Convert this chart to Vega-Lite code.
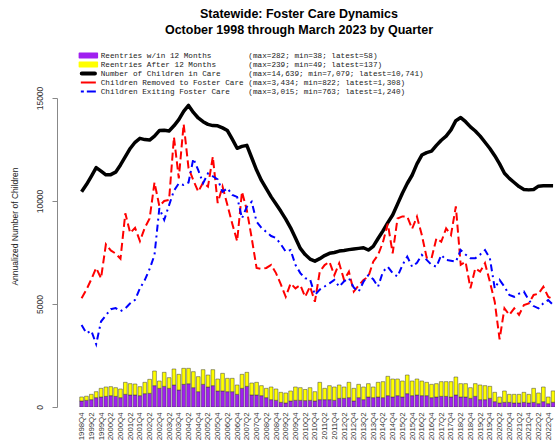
{
  "$schema": "https://vega.github.io/schema/vega-lite/v6.json",
  "width": 498,
  "height": 309,
  "autosize": {"type": "none"},
  "padding": {"left": 57, "top": 98, "right": 0, "bottom": 37},
  "background": "white",
  "title": {
    "text": ["Statewide: Foster Care Dynamics", "October 1998 through March 2023 by Quarter"],
    "font": "Liberation Sans",
    "fontSize": 12.5,
    "fontWeight": "bold",
    "color": "#000000",
    "lineHeight": 16,
    "offset": 15.75,
    "anchor": "middle",
    "dx": -7
  },
  "data": {
    "values": [
      {"i": 0, "care": 10450, "removed": 5280, "exiting": 3980, "r1": 291, "r2": 196},
      {"i": 1, "care": 10800, "removed": 5700, "exiting": 3580, "r1": 324, "r2": 200},
      {"i": 2, "care": 11200, "removed": 6200, "exiting": 3700, "r1": 356, "r2": 259},
      {"i": 3, "care": 11620, "removed": 6750, "exiting": 3052, "r1": 453, "r2": 291},
      {"i": 4, "care": 11450, "removed": 6250, "exiting": 4150, "r1": 485, "r2": 421},
      {"i": 5, "care": 11270, "removed": 7900, "exiting": 4450, "r1": 518, "r2": 453},
      {"i": 6, "care": 11280, "removed": 7600, "exiting": 4750, "r1": 550, "r2": 437},
      {"i": 7, "care": 11400, "removed": 7450, "exiting": 4800, "r1": 518, "r2": 420},
      {"i": 8, "care": 11750, "removed": 7200, "exiting": 4650, "r1": 453, "r2": 421},
      {"i": 9, "care": 12150, "removed": 9400, "exiting": 4790, "r1": 615, "r2": 582},
      {"i": 10, "care": 12550, "removed": 8450, "exiting": 5030, "r1": 583, "r2": 550},
      {"i": 11, "care": 12850, "removed": 8700, "exiting": 5200, "r1": 583, "r2": 534},
      {"i": 12, "care": 13040, "removed": 8050, "exiting": 5760, "r1": 550, "r2": 437},
      {"i": 13, "care": 12980, "removed": 8700, "exiting": 6160, "r1": 647, "r2": 550},
      {"i": 14, "care": 12960, "removed": 9150, "exiting": 6700, "r1": 663, "r2": 680},
      {"i": 15, "care": 13150, "removed": 10900, "exiting": 7380, "r1": 1036, "r2": 711},
      {"i": 16, "care": 13420, "removed": 9750, "exiting": 9650, "r1": 906, "r2": 356},
      {"i": 17, "care": 13430, "removed": 10000, "exiting": 9080, "r1": 1003, "r2": 680},
      {"i": 18, "care": 13400, "removed": 10050, "exiting": 9800, "r1": 906, "r2": 518},
      {"i": 19, "care": 13650, "removed": 13100, "exiting": 10500, "r1": 1068, "r2": 777},
      {"i": 20, "care": 13950, "removed": 11100, "exiting": 10850, "r1": 825, "r2": 761},
      {"i": 21, "care": 14350, "removed": 13736, "exiting": 10780, "r1": 1100, "r2": 777},
      {"i": 22, "care": 14639, "removed": 11600, "exiting": 10900, "r1": 1128, "r2": 749},
      {"i": 23, "care": 14300, "removed": 11000, "exiting": 12060, "r1": 938, "r2": 777},
      {"i": 24, "care": 14030, "removed": 10450, "exiting": 11500, "r1": 744, "r2": 729},
      {"i": 25, "care": 13850, "removed": 10900, "exiting": 10860, "r1": 1100, "r2": 712},
      {"i": 26, "care": 13720, "removed": 10700, "exiting": 11340, "r1": 971, "r2": 582},
      {"i": 27, "care": 13660, "removed": 12150, "exiting": 11200, "r1": 1036, "r2": 776},
      {"i": 28, "care": 13650, "removed": 9900, "exiting": 11050, "r1": 777, "r2": 582},
      {"i": 29, "care": 13550, "removed": 10700, "exiting": 10450, "r1": 777, "r2": 857},
      {"i": 30, "care": 13420, "removed": 9800, "exiting": 10620, "r1": 744, "r2": 648},
      {"i": 31, "care": 13000, "removed": 8900, "exiting": 10300, "r1": 744, "r2": 648},
      {"i": 32, "care": 12560, "removed": 8050, "exiting": 10200, "r1": 615, "r2": 453},
      {"i": 33, "care": 12650, "removed": 10450, "exiting": 9160, "r1": 906, "r2": 680},
      {"i": 34, "care": 12700, "removed": 9550, "exiting": 9720, "r1": 1003, "r2": 680},
      {"i": 35, "care": 12100, "removed": 8200, "exiting": 9960, "r1": 583, "r2": 582},
      {"i": 36, "care": 11500, "removed": 6750, "exiting": 9000, "r1": 583, "r2": 614},
      {"i": 37, "care": 11000, "removed": 6700, "exiting": 8700, "r1": 550, "r2": 486},
      {"i": 38, "care": 10600, "removed": 6750, "exiting": 8500, "r1": 453, "r2": 453},
      {"i": 39, "care": 10200, "removed": 6900, "exiting": 8300, "r1": 356, "r2": 615},
      {"i": 40, "care": 9850, "removed": 6500, "exiting": 8200, "r1": 324, "r2": 550},
      {"i": 41, "care": 9500, "removed": 5950, "exiting": 7900, "r1": 227, "r2": 485},
      {"i": 42, "care": 9120, "removed": 5350, "exiting": 7540, "r1": 194, "r2": 486},
      {"i": 43, "care": 8700, "removed": 6000, "exiting": 7620, "r1": 291, "r2": 486},
      {"i": 44, "care": 8200, "removed": 5760, "exiting": 6900, "r1": 324, "r2": 647},
      {"i": 45, "care": 7700, "removed": 5920, "exiting": 6500, "r1": 324, "r2": 614},
      {"i": 46, "care": 7400, "removed": 5350, "exiting": 6250, "r1": 310, "r2": 540},
      {"i": 47, "care": 7180, "removed": 5850, "exiting": 6200, "r1": 324, "r2": 614},
      {"i": 48, "care": 7079, "removed": 5110, "exiting": 5440, "r1": 291, "r2": 453},
      {"i": 49, "care": 7200, "removed": 6570, "exiting": 5700, "r1": 356, "r2": 841},
      {"i": 50, "care": 7350, "removed": 6890, "exiting": 5850, "r1": 356, "r2": 550},
      {"i": 51, "care": 7460, "removed": 7050, "exiting": 6000, "r1": 356, "r2": 680},
      {"i": 52, "care": 7500, "removed": 6400, "exiting": 6170, "r1": 324, "r2": 647},
      {"i": 53, "care": 7570, "removed": 6980, "exiting": 5840, "r1": 421, "r2": 647},
      {"i": 54, "care": 7600, "removed": 6170, "exiting": 6100, "r1": 421, "r2": 550},
      {"i": 55, "care": 7640, "removed": 6570, "exiting": 6250, "r1": 453, "r2": 744},
      {"i": 56, "care": 7670, "removed": 5600, "exiting": 5800, "r1": 291, "r2": 615},
      {"i": 57, "care": 7700, "removed": 5900, "exiting": 5600, "r1": 453, "r2": 647},
      {"i": 58, "care": 7730, "removed": 6170, "exiting": 6080, "r1": 356, "r2": 615},
      {"i": 59, "care": 7620, "removed": 6330, "exiting": 6400, "r1": 485, "r2": 648},
      {"i": 60, "care": 7800, "removed": 7050, "exiting": 6200, "r1": 453, "r2": 518},
      {"i": 61, "care": 8180, "removed": 7380, "exiting": 5840, "r1": 485, "r2": 712},
      {"i": 62, "care": 8550, "removed": 8000, "exiting": 6570, "r1": 453, "r2": 777},
      {"i": 63, "care": 8950, "removed": 8900, "exiting": 6810, "r1": 550, "r2": 939},
      {"i": 64, "care": 9320, "removed": 7460, "exiting": 6500, "r1": 485, "r2": 874},
      {"i": 65, "care": 9850, "removed": 9150, "exiting": 6330, "r1": 550, "r2": 809},
      {"i": 66, "care": 10380, "removed": 9250, "exiting": 6890, "r1": 485, "r2": 777},
      {"i": 67, "care": 10850, "removed": 9240, "exiting": 7300, "r1": 647, "r2": 906},
      {"i": 68, "care": 11250, "removed": 8650, "exiting": 6810, "r1": 550, "r2": 712},
      {"i": 69, "care": 11800, "removed": 9240, "exiting": 7000, "r1": 583, "r2": 776},
      {"i": 70, "care": 12230, "removed": 8350, "exiting": 7380, "r1": 550, "r2": 712},
      {"i": 71, "care": 12350, "removed": 7250, "exiting": 7140, "r1": 550, "r2": 647},
      {"i": 72, "care": 12420, "removed": 7220, "exiting": 6900, "r1": 453, "r2": 647},
      {"i": 73, "care": 12700, "removed": 8190, "exiting": 6810, "r1": 485, "r2": 648},
      {"i": 74, "care": 12950, "removed": 8020, "exiting": 7380, "r1": 518, "r2": 712},
      {"i": 75, "care": 13150, "removed": 8670, "exiting": 7140, "r1": 518, "r2": 712},
      {"i": 76, "care": 13450, "removed": 8350, "exiting": 7100, "r1": 485, "r2": 745},
      {"i": 77, "care": 13900, "removed": 9736, "exiting": 7050, "r1": 583, "r2": 873},
      {"i": 78, "care": 14050, "removed": 6900, "exiting": 7620, "r1": 485, "r2": 648},
      {"i": 79, "care": 13850, "removed": 7050, "exiting": 7400, "r1": 485, "r2": 648},
      {"i": 80, "care": 13600, "removed": 5760, "exiting": 7220, "r1": 421, "r2": 517},
      {"i": 81, "care": 13400, "removed": 6730, "exiting": 7220, "r1": 518, "r2": 615},
      {"i": 82, "care": 13150, "removed": 6570, "exiting": 7400, "r1": 356, "r2": 712},
      {"i": 83, "care": 12850, "removed": 6980, "exiting": 7621, "r1": 356, "r2": 680},
      {"i": 84, "care": 12550, "removed": 6080, "exiting": 7220, "r1": 421, "r2": 582},
      {"i": 85, "care": 12200, "removed": 5110, "exiting": 5760, "r1": 259, "r2": 453},
      {"i": 86, "care": 11800, "removed": 3288, "exiting": 6170, "r1": 194, "r2": 291},
      {"i": 87, "care": 11350, "removed": 4790, "exiting": 5840, "r1": 227, "r2": 550},
      {"i": 88, "care": 11100, "removed": 4470, "exiting": 5440, "r1": 227, "r2": 388},
      {"i": 89, "care": 10900, "removed": 4790, "exiting": 5350, "r1": 194, "r2": 421},
      {"i": 90, "care": 10700, "removed": 4470, "exiting": 5500, "r1": 194, "r2": 421},
      {"i": 91, "care": 10560, "removed": 4950, "exiting": 5600, "r1": 227, "r2": 485},
      {"i": 92, "care": 10540, "removed": 5030, "exiting": 5190, "r1": 194, "r2": 421},
      {"i": 93, "care": 10560, "removed": 5440, "exiting": 4900, "r1": 227, "r2": 679},
      {"i": 94, "care": 10720, "removed": 5500, "exiting": 4790, "r1": 162, "r2": 518},
      {"i": 95, "care": 10740, "removed": 5840, "exiting": 5030, "r1": 259, "r2": 712},
      {"i": 96, "care": 10745, "removed": 5350, "exiting": 5190, "r1": 162, "r2": 323},
      {"i": 97, "care": 10741, "removed": 5232, "exiting": 4960, "r1": 232, "r2": 548}
    ]
  },
  "encoding": {
    "x": {
      "field": "i",
      "type": "quantitative",
      "scale": {"domain": [-4.03, 96.37], "nice": false, "zero": false},
      "axis": {
        "title": null,
        "values": [0,2,4,6,8,10,12,14,16,18,20,22,24,26,28,30,32,34,36,38,40,42,44,46,48,50,52,54,56,58,60,62,64,66,68,70,72,74,76,78,80,82,84,86,88,90,92,94,96],
        "labelExpr": "toString(1998 + floor((datum.value + 3) / 4)) + 'Q' + toString((datum.value + 3) % 4 + 1)",
        "labelAngle": -90,
        "labelAlign": "right",
        "labelBaseline": "middle",
        "labelFont": "Liberation Sans",
        "labelFontSize": 7.8,
        "labelColor": "#333333",
        "labelPadding": 5,
        "labelOverlap": false,
        "labelFlush": false,
        "labelBound": false,
        "domain": false,
        "ticks": false,
        "tickSize": 0,
        "grid": false
      }
    }
  },
  "layer": [
    {
      "transform": [{"fold": ["r1", "r2"], "as": ["s", "v"]}],
      "mark": {"type": "bar", "size": 3.7, "stroke": "#3a3a3a", "strokeWidth": 0.5, "clip": true},
      "encoding": {
        "y": {
          "field": "v",
          "type": "quantitative",
          "stack": "zero",
          "scale": {"domain": [0, 15000], "nice": false},
          "title": "Annualized Number of Children",
          "axis": {
            "values": [0, 5000, 10000, 15000],
            "format": "d",
            "grid": false,
            "labelAngle": -90,
            "labelAlign": "center",
            "labelBaseline": "bottom",
            "labelFont": "Liberation Sans",
            "labelFontSize": 8.5,
            "labelColor": "#333333",
            "labelPadding": 8,
            "tickSize": 5,
            "tickColor": "#888888",
            "domainColor": "#888888",
            "titleFont": "Liberation Sans",
            "titleFontSize": 8.5,
            "titleFontWeight": "normal",
            "titleColor": "#222222",
            "titleAngle": -90,
            "titleAlign": "center",
            "titleBaseline": "bottom",
            "titleX": -37.5,
            "titleY": 128
          }
        },
        "order": {"field": "s", "type": "nominal", "sort": "ascending"},
        "color": {
          "field": "s",
          "type": "nominal",
          "scale": {
            "domain": ["r1", "r2", "care", "removed", "exiting"],
            "range": ["#a020f0", "#ffff00", "#000000", "#ff0000", "#0000ff"]
          },
          "legend": {
            "title": null, "orient": "none", "legendX": 27.5, "legendY": -46.25, "direction": "vertical",
            "padding": 0, "rowPadding": 0, "symbolType": "stroke", "symbolSize": 36,
            "labelFont": "Liberation Mono", "labelFontSize": 7.7, "labelColor": "#222222", "labelLimit": 800, "labelOffset": 8.5,
            "labelExpr": "datum.value == 'r1' ? 'Reentries w/in 12 Months\u00a0\u00a0\u00a0\u00a0\u00a0\u00a0\u00a0\u00a0(max=282; min=38; latest=58)' : datum.value == 'r2' ? 'Reentries After 12 Months\u00a0\u00a0\u00a0\u00a0\u00a0\u00a0\u00a0(max=239; min=49; latest=137)' : datum.value == 'care' ? 'Number of Children in Care\u00a0\u00a0\u00a0\u00a0\u00a0\u00a0(max=14,639; min=7,079; latest=10,741)' : datum.value == 'removed' ? 'Children Removed to Foster Care\u00a0(max=3,434; min=822; latest=1,308)' : 'Children Exiting Foster Care\u00a0\u00a0\u00a0\u00a0(max=3,015; min=763; latest=1,240)'",
            "encode": {"symbols": {"update": {
              "shape": {"signal": "datum.value == 'r1' || datum.value == 'r2' ? 'M-3.0,-0.75H3.0V0.75H-3.0Z' : datum.value == 'care' ? 'M-2.2,0H2.2' : 'M-2.5,0H2.5'"},
              "fill": {"signal": "datum.value == 'r1' ? '#a020f0' : datum.value == 'r2' ? '#ffff00' : 'transparent'"},
              "stroke": {"signal": "datum.value == 'r1' ? '#a020f0' : datum.value == 'r2' ? '#ffff00' : datum.value == 'care' ? '#000000' : datum.value == 'removed' ? '#ff0000' : '#0000ff'"},
              "opacity": {"value": 1},
              "strokeWidth": {"signal": "datum.value == 'care' ? 4 : datum.value == 'removed' || datum.value == 'exiting' ? 2 : 1.5"},
              "strokeDash": {"signal": "datum.value == 'exiting' ? [3,3,9,3] : [1,0]"},
              "strokeCap": {"signal": "datum.value == 'removed' || datum.value == 'exiting' ? 'butt' : 'round'"},
              "strokeJoin": {"value": "round"}
            }}}
          }
        }
      }
    },
    {
      "mark": {"type": "line", "strokeWidth": 3.5, "strokeJoin": "round", "clip": true},
      "encoding": {
        "y": {"field": "care", "type": "quantitative", "scale": {"domain": [0, 15000], "nice": false}, "title": "Annualized Number of Children"},
        "color": {
          "datum": "care",
          "type": "nominal",
          "legend": {
            "title": null, "orient": "none", "legendX": 27.5, "legendY": -46.25, "direction": "vertical",
            "padding": 0, "rowPadding": 0, "symbolType": "stroke", "symbolSize": 36,
            "labelFont": "Liberation Mono", "labelFontSize": 7.7, "labelColor": "#222222", "labelLimit": 800, "labelOffset": 8.5,
            "labelExpr": "datum.value == 'r1' ? 'Reentries w/in 12 Months\u00a0\u00a0\u00a0\u00a0\u00a0\u00a0\u00a0\u00a0(max=282; min=38; latest=58)' : datum.value == 'r2' ? 'Reentries After 12 Months\u00a0\u00a0\u00a0\u00a0\u00a0\u00a0\u00a0(max=239; min=49; latest=137)' : datum.value == 'care' ? 'Number of Children in Care\u00a0\u00a0\u00a0\u00a0\u00a0\u00a0(max=14,639; min=7,079; latest=10,741)' : datum.value == 'removed' ? 'Children Removed to Foster Care\u00a0(max=3,434; min=822; latest=1,308)' : 'Children Exiting Foster Care\u00a0\u00a0\u00a0\u00a0(max=3,015; min=763; latest=1,240)'",
            "encode": {"symbols": {"update": {
              "shape": {"signal": "datum.value == 'r1' || datum.value == 'r2' ? 'M-3.0,-0.75H3.0V0.75H-3.0Z' : datum.value == 'care' ? 'M-2.2,0H2.2' : 'M-2.5,0H2.5'"},
              "fill": {"signal": "datum.value == 'r1' ? '#a020f0' : datum.value == 'r2' ? '#ffff00' : 'transparent'"},
              "stroke": {"signal": "datum.value == 'r1' ? '#a020f0' : datum.value == 'r2' ? '#ffff00' : datum.value == 'care' ? '#000000' : datum.value == 'removed' ? '#ff0000' : '#0000ff'"},
              "opacity": {"value": 1},
              "strokeWidth": {"signal": "datum.value == 'care' ? 4 : datum.value == 'removed' || datum.value == 'exiting' ? 2 : 1.5"},
              "strokeDash": {"signal": "datum.value == 'exiting' ? [3,3,9,3] : [1,0]"},
              "strokeCap": {"signal": "datum.value == 'removed' || datum.value == 'exiting' ? 'butt' : 'round'"},
              "strokeJoin": {"value": "round"}
            }}}
          }
        }
      }
    },
    {
      "mark": {"type": "line", "strokeWidth": 2, "strokeDash": [8, 4], "clip": true},
      "encoding": {
        "y": {"field": "removed", "type": "quantitative", "scale": {"domain": [0, 15000], "nice": false}, "title": "Annualized Number of Children"},
        "color": {
          "datum": "removed",
          "type": "nominal",
          "legend": {
            "title": null, "orient": "none", "legendX": 27.5, "legendY": -46.25, "direction": "vertical",
            "padding": 0, "rowPadding": 0, "symbolType": "stroke", "symbolSize": 36,
            "labelFont": "Liberation Mono", "labelFontSize": 7.7, "labelColor": "#222222", "labelLimit": 800, "labelOffset": 8.5,
            "labelExpr": "datum.value == 'r1' ? 'Reentries w/in 12 Months\u00a0\u00a0\u00a0\u00a0\u00a0\u00a0\u00a0\u00a0(max=282; min=38; latest=58)' : datum.value == 'r2' ? 'Reentries After 12 Months\u00a0\u00a0\u00a0\u00a0\u00a0\u00a0\u00a0(max=239; min=49; latest=137)' : datum.value == 'care' ? 'Number of Children in Care\u00a0\u00a0\u00a0\u00a0\u00a0\u00a0(max=14,639; min=7,079; latest=10,741)' : datum.value == 'removed' ? 'Children Removed to Foster Care\u00a0(max=3,434; min=822; latest=1,308)' : 'Children Exiting Foster Care\u00a0\u00a0\u00a0\u00a0(max=3,015; min=763; latest=1,240)'",
            "encode": {"symbols": {"update": {
              "shape": {"signal": "datum.value == 'r1' || datum.value == 'r2' ? 'M-3.0,-0.75H3.0V0.75H-3.0Z' : datum.value == 'care' ? 'M-2.2,0H2.2' : 'M-2.5,0H2.5'"},
              "fill": {"signal": "datum.value == 'r1' ? '#a020f0' : datum.value == 'r2' ? '#ffff00' : 'transparent'"},
              "stroke": {"signal": "datum.value == 'r1' ? '#a020f0' : datum.value == 'r2' ? '#ffff00' : datum.value == 'care' ? '#000000' : datum.value == 'removed' ? '#ff0000' : '#0000ff'"},
              "opacity": {"value": 1},
              "strokeWidth": {"signal": "datum.value == 'care' ? 4 : datum.value == 'removed' || datum.value == 'exiting' ? 2 : 1.5"},
              "strokeDash": {"signal": "datum.value == 'exiting' ? [3,3,9,3] : [1,0]"},
              "strokeCap": {"signal": "datum.value == 'removed' || datum.value == 'exiting' ? 'butt' : 'round'"},
              "strokeJoin": {"value": "round"}
            }}}
          }
        }
      }
    },
    {
      "mark": {"type": "line", "strokeWidth": 2, "strokeDash": [7, 4, 2, 4], "clip": true},
      "encoding": {
        "y": {"field": "exiting", "type": "quantitative", "scale": {"domain": [0, 15000], "nice": false}, "title": "Annualized Number of Children"},
        "color": {
          "datum": "exiting",
          "type": "nominal",
          "legend": {
            "title": null, "orient": "none", "legendX": 27.5, "legendY": -46.25, "direction": "vertical",
            "padding": 0, "rowPadding": 0, "symbolType": "stroke", "symbolSize": 36,
            "labelFont": "Liberation Mono", "labelFontSize": 7.7, "labelColor": "#222222", "labelLimit": 800, "labelOffset": 8.5,
            "labelExpr": "datum.value == 'r1' ? 'Reentries w/in 12 Months\u00a0\u00a0\u00a0\u00a0\u00a0\u00a0\u00a0\u00a0(max=282; min=38; latest=58)' : datum.value == 'r2' ? 'Reentries After 12 Months\u00a0\u00a0\u00a0\u00a0\u00a0\u00a0\u00a0(max=239; min=49; latest=137)' : datum.value == 'care' ? 'Number of Children in Care\u00a0\u00a0\u00a0\u00a0\u00a0\u00a0(max=14,639; min=7,079; latest=10,741)' : datum.value == 'removed' ? 'Children Removed to Foster Care\u00a0(max=3,434; min=822; latest=1,308)' : 'Children Exiting Foster Care\u00a0\u00a0\u00a0\u00a0(max=3,015; min=763; latest=1,240)'",
            "encode": {"symbols": {"update": {
              "shape": {"signal": "datum.value == 'r1' || datum.value == 'r2' ? 'M-3.0,-0.75H3.0V0.75H-3.0Z' : datum.value == 'care' ? 'M-2.2,0H2.2' : 'M-2.5,0H2.5'"},
              "fill": {"signal": "datum.value == 'r1' ? '#a020f0' : datum.value == 'r2' ? '#ffff00' : 'transparent'"},
              "stroke": {"signal": "datum.value == 'r1' ? '#a020f0' : datum.value == 'r2' ? '#ffff00' : datum.value == 'care' ? '#000000' : datum.value == 'removed' ? '#ff0000' : '#0000ff'"},
              "opacity": {"value": 1},
              "strokeWidth": {"signal": "datum.value == 'care' ? 4 : datum.value == 'removed' || datum.value == 'exiting' ? 2 : 1.5"},
              "strokeDash": {"signal": "datum.value == 'exiting' ? [3,3,9,3] : [1,0]"},
              "strokeCap": {"signal": "datum.value == 'removed' || datum.value == 'exiting' ? 'butt' : 'round'"},
              "strokeJoin": {"value": "round"}
            }}}
          }
        }
      }
    }
  ],
  "config": {
    "view": {"stroke": null},
    "font": "Liberation Sans"
  }
}
